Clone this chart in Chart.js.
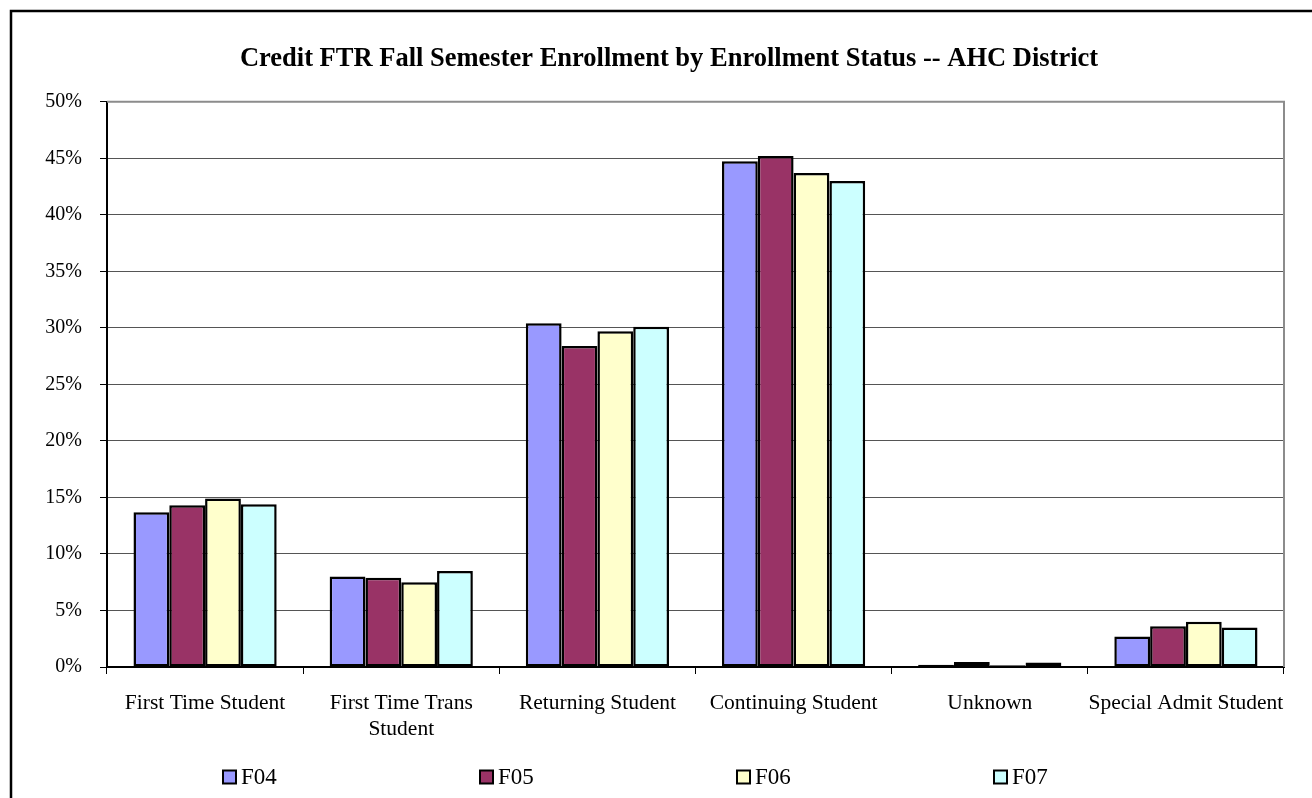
<!DOCTYPE html>
<html>
<head>
    <title>Credit FTR Fall Semester Enrollment</title>
    <script src="https://cdn.jsdelivr.net/npm/chart.js"></script>
    <style>
        html, body {
            margin: 0;
            padding: 0;
            background-color: #ffffff;
        }
        .chart-container {
            position: relative;
            width: 1312px;
            height: 798px;
        }
    </style>
</head>
<body>
    <div class="chart-container">
        <canvas id="enrollmentChart"></canvas>
    </div>

    <script>
        // Chart data (percent of enrollment)
        const categories = [
            'First Time Student',
            ['First Time Trans', 'Student'],
            'Returning Student',
            'Continuing Student',
            'Unknown',
            'Special Admit Student'
        ];
        const seriesNames = ['F04', 'F05', 'F06', 'F07'];
        const f04Values = [13.7, 8.0, 30.4, 44.75, 0.2, 2.7];
        const f05Values = [14.3, 7.9, 28.4, 45.2, 0.45, 3.6];
        const f06Values = [14.9, 7.5, 29.7, 43.7, 0.15, 4.0];
        const f07Values = [14.4, 8.5, 30.1, 43.0, 0.4, 3.5];
        const yTicks = [0, 5, 10, 15, 20, 25, 30, 35, 40, 45, 50];

        const seriesColors = ['#9999FF', '#993366', '#FFFFCC', '#CCFFFF'];
        const serif = "'Liberation Serif', 'Times New Roman', serif";

        // Outer black frame + white background
        const frame = {
            id: 'frame',
            beforeDraw(chart) {
                const ctx = chart.ctx;
                ctx.save();
                ctx.fillStyle = '#ffffff';
                ctx.fillRect(0, 0, chart.width, chart.height);
                ctx.strokeStyle = '#000000';
                ctx.lineWidth = 2.5;
                ctx.strokeRect(11, 11, chart.width + 100, chart.height + 100);
                ctx.restore();
            },
            afterDraw(chart) {
                // grey top/right edge of the plot area
                const a = chart.chartArea;
                const ctx = chart.ctx;
                ctx.save();
                ctx.strokeStyle = '#8c8c8c';
                ctx.lineWidth = 2;
                ctx.beginPath();
                ctx.moveTo(a.left, a.top);
                ctx.lineTo(a.right, a.top);
                ctx.lineTo(a.right, a.bottom);
                ctx.stroke();
                ctx.restore();
            }
        };

        // Spread-out legend along the bottom, like the original sheet
        const spreadLegend = {
            id: 'spreadLegend',
            afterDraw(chart) {
                const ctx = chart.ctx;
                const y = 777;
                ctx.save();
                ctx.font = '23px ' + serif;
                ctx.textBaseline = 'middle';
                ctx.textAlign = 'left';
                chart.data.datasets.forEach((ds, i) => {
                    const x = 223 + i * 257;
                    ctx.fillStyle = ds.backgroundColor;
                    ctx.fillRect(x, y - 6.5, 13, 13);
                    ctx.strokeStyle = '#000000';
                    ctx.lineWidth = 2;
                    ctx.strokeRect(x, y - 6.5, 13, 13);
                    ctx.fillStyle = '#000000';
                    ctx.fillText(ds.label, x + 18, y + 1);
                });
                ctx.restore();
            }
        };

        const ctx = document.getElementById('enrollmentChart').getContext('2d');
        const chart = new Chart(ctx, {
            type: 'bar',
            data: {
                labels: categories,
                datasets: [f04Values, f05Values, f06Values, f07Values].map((vals, i) => ({
                    label: seriesNames[i],
                    data: vals,
                    backgroundColor: seriesColors[i],
                    borderColor: '#000000',
                    borderWidth: 2.5,
                    borderSkipped: false,
                    categoryPercentage: 0.73,
                    barPercentage: 1.0
                }))
            },
            options: {
                responsive: true,
                maintainAspectRatio: false,
                animation: false,
                layout: {
                    padding: { top: 0, right: 0, bottom: 55, left: 26 }
                },
                scales: {
                    x: {
                        grid: {
                            display: true,
                            offset: true,
                            drawOnChartArea: false,
                            drawTicks: true,
                            tickLength: 7,
                            tickColor: '#000000',
                            color: '#000000'
                        },
                        border: {
                            color: '#000000',
                            width: 2
                        },
                        ticks: {
                            color: '#000000',
                            padding: 17,
                            maxRotation: 0,
                            autoSkip: false,
                            font: { family: serif, size: 21.5, lineHeight: 1.18 }
                        },
                        afterFit(scale) {
                            scale.height = 76;
                        }
                    },
                    y: {
                        min: 0,
                        max: 50,
                        afterBuildTicks(scale) {
                            scale.ticks = yTicks.map(v => ({ value: v }));
                        },
                        grid: {
                            color: '#555555',
                            lineWidth: 1,
                            drawTicks: true,
                            tickLength: 7,
                            tickColor: '#000000'
                        },
                        border: {
                            color: '#000000',
                            width: 2
                        },
                        ticks: {
                            color: '#000000',
                            padding: 18,
                            font: { family: serif, size: 20 },
                            callback: value => value + '%'
                        },
                        afterFit(scale) {
                            scale.width = 81;
                        }
                    },
                    // empty right-hand strip so the plot ends where the original does
                    yRight: {
                        position: 'right',
                        min: 0,
                        max: 50,
                        grid: { display: false, drawTicks: false },
                        border: { display: false },
                        ticks: { display: false },
                        afterFit(scale) {
                            scale.width = 28;
                        }
                    }
                },
                plugins: {
                    legend: { display: false },
                    tooltip: { enabled: false },
                    title: {
                        display: true,
                        text: 'Credit FTR Fall Semester Enrollment by Enrollment Status -- AHC District',
                        color: '#000000',
                        font: { family: serif, size: 26.5, weight: 'bold', lineHeight: 1.2 },
                        padding: { top: 43, bottom: 27 }
                    }
                }
            },
            plugins: [frame, spreadLegend]
        });
    </script>
</body>
</html>
